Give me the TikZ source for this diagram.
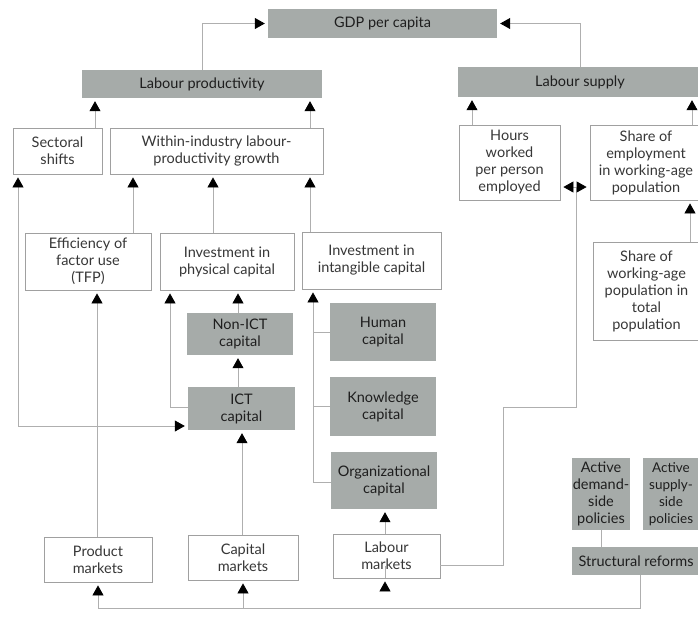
\documentclass[tikz,border=0pt]{standalone}
\usepackage{fontspec}
\setmainfont{Lato}
\usetikzlibrary{arrows.meta}
\definecolor{boxgray}{RGB}{166,171,169}
\definecolor{linegray}{RGB}{175,175,175}
\definecolor{edgegray}{RGB}{160,160,160}
\definecolor{txt}{RGB}{55,55,55}
\definecolor{txtdark}{RGB}{30,30,30}
\tikzset{
  base/.style={align=center, inner sep=0.5pt, font=\fontsize{14.5}{17}\selectfont},
  wbox/.style={base, draw=edgegray, line width=0.8pt, fill=white, text=txt},
  gbox/.style={base, fill=boxgray, draw=none, text=txtdark},
  conn/.style={draw=linegray, line width=0.8pt},
  tip/.tip={Triangle[width=11pt,length=10pt,fill=black,color=black]},
  arr/.style={conn, -tip, shorten >=3pt},
  arrboth/.style={conn, tip-tip, shorten >=3pt, shorten <=3pt},
}
\begin{document}
\begin{tikzpicture}[x=1pt,y=-1pt]
\useasboundingbox (0,0) rectangle (698,641);
\clip (0,0) rectangle (698,641);
\fill[white] (0,0) rectangle (698,641);

% nodes
\node[gbox, minimum width=229pt, minimum height=29pt] (gdp) at (382.5,23.5) {GDP per capita};
\node[gbox, minimum width=240pt, minimum height=28pt] (lp) at (202,84) {Labour productivity};
\node[gbox, minimum width=244pt, minimum height=30pt] (ls) at (580,82) {Labour supply};

\node[wbox, minimum width=89pt, minimum height=46pt] (sect) at (57.5,151) {Sectoral\\shifts};
\node[wbox, minimum width=213pt, minimum height=46pt] (within) at (216.5,151) {Within-industry labour-\\productivity growth};
\node[wbox, minimum width=101pt, minimum height=75pt] (hours) at (509.5,162.5) {Hours\\worked\\per person\\employed};
\node[wbox, minimum width=112pt, minimum height=75pt] (shemp) at (646,162.5) {Share of\\employment\\in working-age\\population};

\node[wbox, minimum width=126pt, minimum height=57pt] (eff) at (88,261.5) {Efficiency of\\factor use\\(TFP)};
\node[wbox, minimum width=134pt, minimum height=57pt] (phys) at (227,261.5) {Investment in\\physical capital};
\node[wbox, minimum width=139pt, minimum height=57pt] (intang) at (371.5,260.5) {Investment in\\intangible capital};
\node[wbox, minimum width=107pt, minimum height=98pt] (shwa) at (646.5,291) {Share of\\working-age\\population in\\total\\population};

\node[gbox, minimum width=106pt, minimum height=42pt] (nonict) at (240,334) {Non-ICT\\capital};
\node[gbox, minimum width=107pt, minimum height=43pt] (ict) at (241.5,408.5) {ICT\\capital};
\node[gbox, minimum width=106pt, minimum height=58pt] (human) at (383,332) {Human\\capital};
\node[gbox, minimum width=106pt, minimum height=59pt] (know) at (383,406.5) {Knowledge\\capital};
\node[gbox, minimum width=106pt, minimum height=57pt] (org) at (384,480.5) {Organizational\\capital};

\node[gbox, minimum width=58pt, minimum height=72pt] (actd) at (601,494) {Active\\demand-\\side\\policies};
\node[gbox, minimum width=56pt, minimum height=72pt, font=\fontsize{13.5}{17}\selectfont] (acts) at (671,494) {Active\\supply-\\side\\policies};
\node[gbox, minimum width=128pt, minimum height=28pt] (struct) at (636,561) {Structural reforms};

\node[wbox, minimum width=108pt, minimum height=45pt] (prod) at (98,559.5) {Product\\markets};
\node[wbox, minimum width=110pt, minimum height=45pt] (cap) at (243,557.5) {Capital\\markets};
\node[wbox, minimum width=107pt, minimum height=44pt] (labm) at (386.5,556) {Labour\\markets};

\coordinate (j1) at (503,407);
\coordinate (j2) at (576,187);

% connectors to GDP
\draw[arr] (lp.north) |- (gdp.west);
\draw[arr] (ls.north) |- (gdp.east);

% to labour productivity
\draw[arr] (sect.north -| 95,0) -- (lp.south -| 95,0);
\draw[arr] (within.north -| 310,0) -- (lp.south -| 310,0);

% to within-industry
\draw[arr] (eff.north -| 133,0) -- (within.south -| 133,0);
\draw[arr] (phys.north -| 213,0) -- (within.south -| 213,0);
\draw[arr] (intang.north -| 310,0) -- (within.south -| 310,0);

% sectoral shifts <-> ICT
\draw[arrboth] (sect.south -| 18,0) |- (ict.west |- 0,426);

% product markets -> efficiency
\draw[arr] (prod.north -| 97,0) -- (eff.south -| 97,0);

% physical capital
\draw[arr] (ict.west |- 0,407) -| (phys.south -| 170,0);
\draw[arr] (nonict.north -| 238,0) -- (phys.south -| 238,0);
\draw[arr] (ict.north -| 238,0) -- (nonict.south -| 238,0);
\draw[arr] (cap.north -| 242,0) -- (ict.south -| 242,0);

% intangible capital
\draw[arr] (org.west |- 0,482) -| (intang.south -| 313,0);
\draw[conn] (human.west) -- (human.west -| 313,0);
\draw[conn] (know.west) -- (know.west -| 313,0);
\draw[arr] (labm.north -| 385,0) -- (org.south -| 385,0);

% labour markets -> hours / share of employment
\draw[conn] (labm.east |- 0,565) -| (j1) -| (j2);
\draw[arr] (j2) -- (hours.east |- j2);
\draw[arr] (j2) -- (shemp.west |- j2);

% labour supply
\draw[arr] (hours.north -| 472,0) -- (ls.south -| 472,0);
\draw[arr] (shemp.north -| 692,0) -- (ls.south -| 692,0);
\draw[arr] (shwa.north -| 690,0) -- (shemp.south -| 690,0);

% structural reforms
\draw[conn] (actd.south) -- (actd.south |- struct.north);
\draw[arr] (struct.south -| 640,0) |- (prod.south |- 0,608) -- (prod.south);
\draw[arr] (cap.south |- 0,608) -- (cap.south);
\draw[arr] (labm.south -| 385,0 |- 0,608) -- (labm.south -| 385,0);
\end{tikzpicture}
\end{document}
